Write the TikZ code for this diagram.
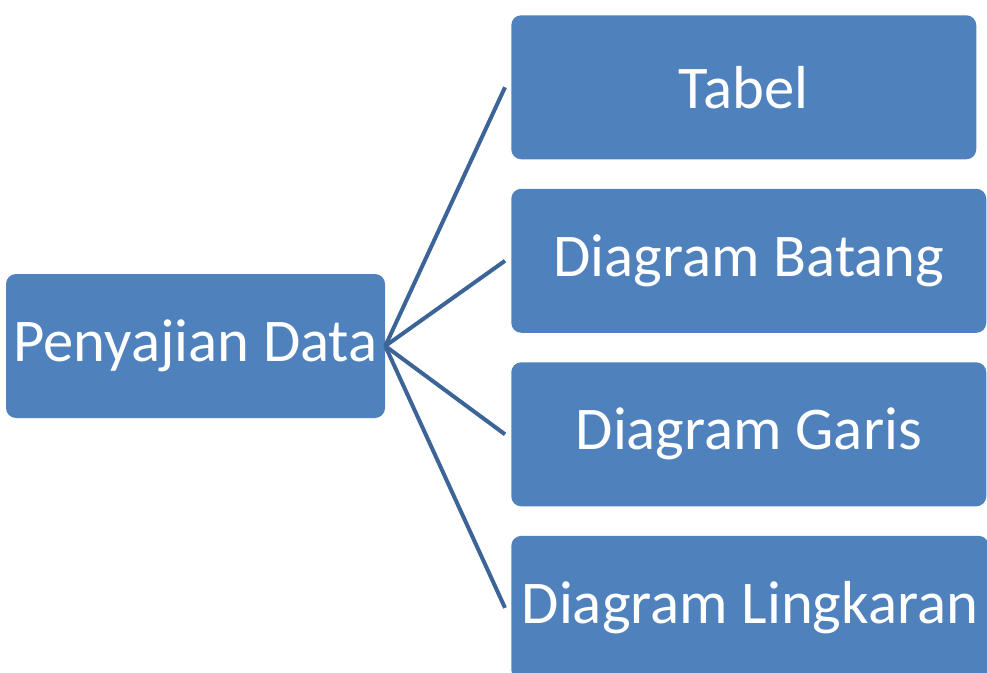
\documentclass[tikz,border=0pt]{standalone}
\usepackage{fontspec}
\setmainfont{Carlito}
\usepackage{tikz}
\usetikzlibrary{positioning}

\definecolor{boxblue}{HTML}{4F81BD}
\definecolor{linkblue}{HTML}{3C6496}

\begin{document}
\begin{tikzpicture}[
  x=0.75pt, y=0.75pt,
  box/.style={rectangle, rounded corners=7.5pt, fill=boxblue, text=white,
              inner sep=0pt, minimum height=108pt,
              font=\fontsize{45.5}{55}\selectfont},
  link/.style={draw=linkblue, line width=3pt}
]
\useasboundingbox (0,0) rectangle (987,672);
\clip (0,0) rectangle (987,672);

% root and the four kinds of presentation
\node[box, minimum width=284.25pt] (root) at (195.5,326) {Penyajian Data};
\node[box, minimum width=348.75pt, anchor=north west] (tabel) at (511,657) {Tabel};
\node[box, minimum width=356.25pt, below=21.75pt of tabel.south west, anchor=north west] (batang) {Diagram Batang};
\node[box, minimum width=356.25pt, below=21.75pt of batang.south west, anchor=north west] (garis) {Diagram Garis};
\node[box, minimum width=358pt, below=21.75pt of garis.south west, anchor=north west] (lingkaran) {Diagram Lingkaran};

\draw[link] (root.east) -- ([xshift=-4.5pt]tabel.west);
\draw[link] (root.east) -- ([xshift=-4.5pt]batang.west);
\draw[link] (root.east) -- ([xshift=-4.5pt]garis.west);
\draw[link] (root.east) -- ([xshift=-4.5pt]lingkaran.west);

\end{tikzpicture}
\end{document}
